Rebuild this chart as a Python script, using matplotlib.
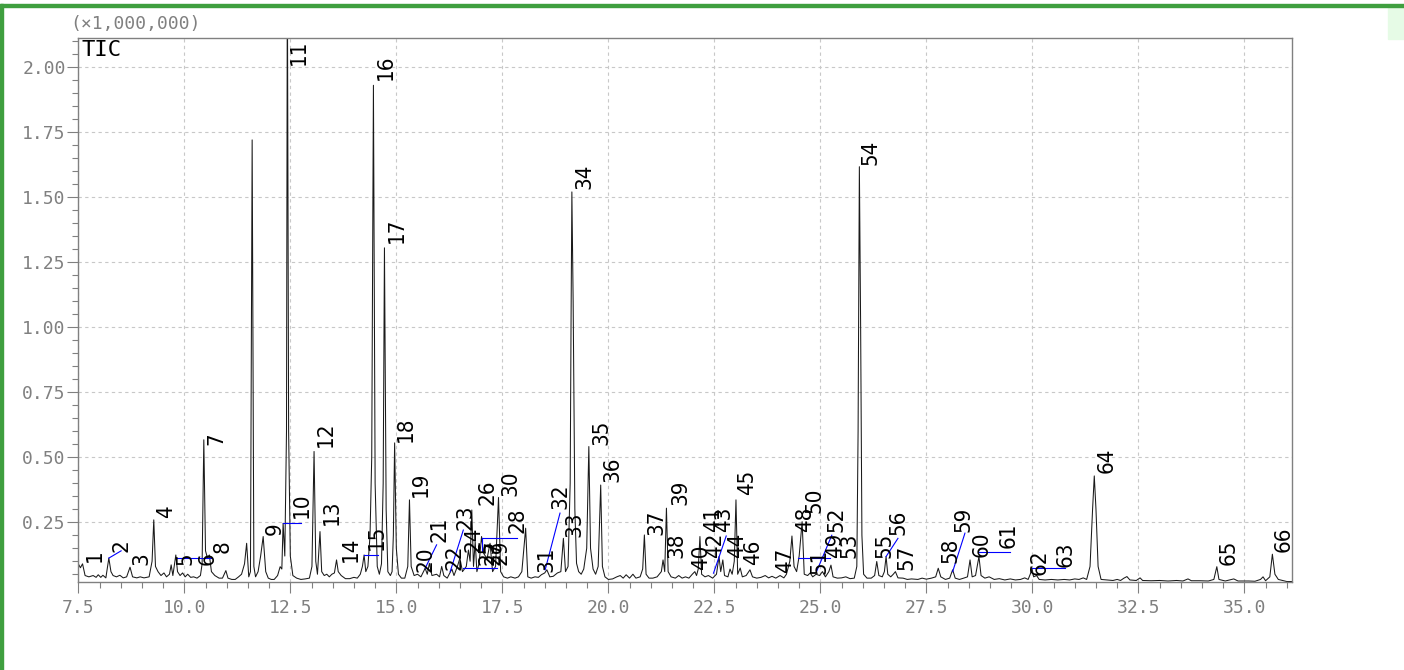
import matplotlib
matplotlib.use('Agg')
import matplotlib.pyplot as plt
from matplotlib.ticker import MultipleLocator
from matplotlib.patches import Rectangle

# TIC trace: retention time (min), intensity (x1,000,000)
trace_t = [7.50, 7.55, 7.60, 7.66, 7.75, 7.85, 7.92, 7.97, 8.03, 8.08, 8.15, 8.22, 8.27, 8.32, 8.40,
           8.48, 8.56, 8.64, 8.72, 8.78, 8.88, 8.96, 9.05, 9.17, 9.24, 9.28, 9.32, 9.38, 9.45, 9.52,
           9.58, 9.65, 9.69, 9.73, 9.80, 9.84, 9.90, 9.96, 10.02, 10.08, 10.15, 10.22, 10.30, 10.38, 10.42,
           10.46, 10.50, 10.55, 10.59, 10.64, 10.72, 10.82, 10.90, 10.98, 11.03, 11.12, 11.20, 11.28, 11.35, 11.42,
           11.47, 11.52, 11.56, 11.60, 11.64, 11.68, 11.74, 11.80, 11.86, 11.92, 11.98, 12.05, 12.12, 12.20, 12.26,
           12.30, 12.33, 12.37, 12.41, 12.43, 12.46, 12.50, 12.56, 12.65, 12.75, 12.85, 12.95, 13.01, 13.06, 13.10,
           13.14, 13.20, 13.24, 13.30, 13.36, 13.42, 13.48, 13.54, 13.59, 13.63, 13.70, 13.80, 13.90, 14.00, 14.08,
           14.15, 14.20, 14.24, 14.28, 14.33, 14.38, 14.42, 14.46, 14.50, 14.55, 14.60, 14.65, 14.69, 14.72, 14.76,
           14.80, 14.86, 14.90, 14.93, 14.96, 15.00, 15.05, 15.12, 15.20, 15.27, 15.31, 15.35, 15.42, 15.50, 15.58,
           15.68, 15.73, 15.78, 15.84, 15.95, 16.02, 16.07, 16.12, 16.20, 16.31, 16.36, 16.44, 16.50, 16.56, 16.65,
           16.70, 16.74, 16.78, 16.82, 16.86, 16.90, 16.95, 17.01, 17.06, 17.14, 17.21, 17.27, 17.34, 17.41, 17.46,
           17.53, 17.62, 17.70, 17.80, 17.88, 17.96, 18.05, 18.10, 18.18, 18.27, 18.35, 18.42, 18.50, 18.55, 18.62,
           18.70, 18.80, 18.88, 18.94, 18.99, 19.05, 19.10, 19.12, 19.14, 19.17, 19.21, 19.25, 19.30, 19.36, 19.42,
           19.49, 19.54, 19.58, 19.64, 19.70, 19.76, 19.82, 19.86, 19.92, 20.00, 20.10, 20.20, 20.28, 20.35, 20.42,
           20.50, 20.58, 20.65, 20.75, 20.81, 20.85, 20.89, 20.96, 21.05, 21.15, 21.25, 21.29, 21.33, 21.37, 21.41,
           21.48, 21.58, 21.66, 21.74, 21.82, 21.90, 21.98, 22.04, 22.08, 22.12, 22.16, 22.20, 22.28, 22.36, 22.46,
           22.55, 22.61, 22.65, 22.70, 22.74, 22.82, 22.87, 22.92, 22.97, 23.01, 23.05, 23.11, 23.16, 23.25, 23.34,
           23.40, 23.50, 23.60, 23.70, 23.78, 23.86, 23.95, 24.05, 24.14, 24.20, 24.28, 24.33, 24.38, 24.44, 24.50,
           24.57, 24.62, 24.70, 24.76, 24.82, 24.90, 24.98, 25.05, 25.12, 25.20, 25.25, 25.30, 25.40, 25.50, 25.60,
           25.70, 25.80, 25.86, 25.89, 25.92, 25.95, 25.98, 26.02, 26.10, 26.20, 26.28, 26.33, 26.38, 26.46, 26.51,
           26.55, 26.59, 26.66, 26.72, 26.77, 26.83, 26.95, 27.05, 27.15, 27.30, 27.40, 27.50, 27.62, 27.72, 27.78,
           27.84, 27.95, 28.05, 28.12, 28.18, 28.28, 28.38, 28.47, 28.53, 28.58, 28.66, 28.74, 28.79, 28.88, 28.98,
           29.10, 29.22, 29.35, 29.48, 29.60, 29.72, 29.82, 29.90, 29.95, 29.99, 30.03, 30.10, 30.16, 30.30, 30.45,
           30.60, 30.75, 30.88, 31.00, 31.10, 31.20, 31.28, 31.36, 31.42, 31.46, 31.50, 31.55, 31.62, 31.75, 31.90,
           32.00, 32.08, 32.16, 32.23, 32.30, 32.45, 32.54, 32.60, 32.80, 33.00, 33.20, 33.40, 33.55, 33.67, 33.75,
           33.95, 34.15, 34.28, 34.35, 34.40, 34.55, 34.75, 34.85, 35.10, 35.25, 35.38, 35.44, 35.50, 35.60, 35.66,
           35.72, 35.80, 35.92, 36.00, 36.13]
trace_v = [0.090, 0.075, 0.090, 0.045, 0.040, 0.045, 0.038, 0.048, 0.038, 0.046, 0.036, 0.112, 0.060, 0.045, 0.040,
           0.046, 0.036, 0.040, 0.077, 0.040, 0.036, 0.040, 0.036, 0.040, 0.100, 0.259, 0.080, 0.060, 0.045, 0.055,
           0.040, 0.050, 0.086, 0.045, 0.124, 0.060, 0.045, 0.055, 0.040, 0.050, 0.038, 0.040, 0.035, 0.045, 0.090,
           0.567, 0.140, 0.110, 0.124, 0.060, 0.045, 0.035, 0.035, 0.064, 0.035, 0.030, 0.030, 0.040, 0.050, 0.090,
           0.169, 0.040, 0.060, 1.720, 0.080, 0.040, 0.060, 0.120, 0.195, 0.060, 0.035, 0.030, 0.030, 0.045, 0.079,
           0.070, 0.246, 0.120, 0.600, 2.400, 0.600, 0.120, 0.045, 0.035, 0.030, 0.032, 0.035, 0.080, 0.522, 0.100,
           0.050, 0.214, 0.060, 0.045, 0.050, 0.040, 0.050, 0.055, 0.105, 0.060, 0.045, 0.033, 0.033, 0.038, 0.035,
           0.050, 0.080, 0.124, 0.060, 0.080, 0.200, 0.500, 1.930, 0.400, 0.080, 0.050, 0.090, 0.400, 1.305, 0.300,
           0.060, 0.045, 0.060, 0.200, 0.555, 0.150, 0.050, 0.035, 0.035, 0.080, 0.336, 0.080, 0.045, 0.050, 0.040,
           0.073, 0.050, 0.092, 0.045, 0.050, 0.040, 0.080, 0.045, 0.035, 0.070, 0.045, 0.080, 0.112, 0.060, 0.080,
           0.143, 0.100, 0.297, 0.080, 0.175, 0.060, 0.090, 0.195, 0.130, 0.110, 0.169, 0.060, 0.080, 0.345, 0.060,
           0.040, 0.035, 0.040, 0.035, 0.040, 0.060, 0.227, 0.040, 0.035, 0.040, 0.038, 0.048, 0.055, 0.067, 0.040,
           0.042, 0.055, 0.060, 0.188, 0.060, 0.080, 0.400, 1.000, 1.520, 1.100, 0.300, 0.092, 0.060, 0.050, 0.070,
           0.150, 0.541, 0.150, 0.070, 0.050, 0.080, 0.393, 0.080, 0.040, 0.030, 0.032, 0.040, 0.045, 0.035, 0.048,
           0.035, 0.050, 0.035, 0.040, 0.070, 0.201, 0.050, 0.035, 0.035, 0.040, 0.060, 0.105, 0.060, 0.304, 0.060,
           0.040, 0.035, 0.045, 0.035, 0.040, 0.035, 0.050, 0.060, 0.045, 0.070, 0.195, 0.050, 0.040, 0.045, 0.035,
           0.050, 0.118, 0.060, 0.105, 0.045, 0.040, 0.070, 0.050, 0.100, 0.336, 0.050, 0.074, 0.040, 0.045, 0.067,
           0.040, 0.035, 0.038, 0.045, 0.036, 0.042, 0.035, 0.045, 0.036, 0.050, 0.100, 0.197, 0.080, 0.060, 0.120,
           0.252, 0.050, 0.045, 0.055, 0.040, 0.050, 0.045, 0.060, 0.040, 0.060, 0.085, 0.040, 0.035, 0.036, 0.040,
           0.033, 0.035, 0.080, 0.600, 1.617, 1.000, 0.200, 0.050, 0.035, 0.035, 0.045, 0.099, 0.045, 0.040, 0.060,
           0.118, 0.050, 0.040, 0.050, 0.060, 0.036, 0.035, 0.030, 0.032, 0.030, 0.035, 0.031, 0.035, 0.040, 0.073,
           0.040, 0.030, 0.035, 0.067, 0.035, 0.030, 0.035, 0.040, 0.105, 0.040, 0.045, 0.118, 0.045, 0.035, 0.040,
           0.030, 0.033, 0.028, 0.032, 0.028, 0.030, 0.036, 0.030, 0.050, 0.073, 0.040, 0.045, 0.030, 0.028, 0.030,
           0.028, 0.030, 0.028, 0.032, 0.030, 0.036, 0.030, 0.080, 0.300, 0.428, 0.300, 0.080, 0.030, 0.028, 0.026,
           0.030, 0.026, 0.035, 0.041, 0.028, 0.026, 0.036, 0.026, 0.025, 0.026, 0.024, 0.026, 0.024, 0.032, 0.025,
           0.025, 0.024, 0.030, 0.079, 0.030, 0.024, 0.032, 0.024, 0.024, 0.023, 0.030, 0.040, 0.025, 0.040, 0.127,
           0.050, 0.030, 0.025, 0.022, 0.022]

# peak numbers
peak_no = list(range(1, 67))

# label layout: (centre time, bottom of text) per peak number
label_pos = {
    1: (7.89, 0.097), 2: (8.51, 0.137), 3: (8.98, 0.086), 4: (9.57, 0.267), 5: (10.02, 0.086),
    6: (10.54, 0.086), 7: (10.75, 0.547), 8: (10.91, 0.132), 9: (12.14, 0.201), 10: (12.78, 0.267),
    11: (12.71, None), 12: (13.34, 0.540), 13: (13.48, 0.240), 14: (13.93, 0.097), 15: (14.54, 0.143),
    16: (14.76, 1.951), 17: (15.02, 1.325), 18: (15.23, 0.560), 19: (15.58, 0.348), 20: (15.68, 0.060),
    21: (16.03, 0.174), 22: (16.38, 0.067), 23: (16.62, 0.220), 24: (16.83, 0.136), 25: (17.14, 0.085),
    26: (17.16, 0.317), 27: (17.30, 0.086), 28: (17.85, 0.210), 29: (17.45, 0.086), 30: (17.70, 0.350),
    31: (18.55, 0.060), 32: (18.86, 0.300), 33: (19.19, 0.193), 34: (19.43, 1.530), 35: (19.83, 0.548),
    36: (20.09, 0.405), 37: (21.13, 0.200), 38: (21.60, 0.113), 39: (21.71, 0.317), 40: (22.18, 0.067),
    41: (22.47, 0.213), 42: (22.51, 0.113), 43: (22.73, 0.213), 44: (23.03, 0.113), 45: (23.27, 0.355),
    46: (23.41, 0.085), 47: (24.17, 0.055), 48: (24.64, 0.213), 49: (25.35, 0.113), 50: (24.87, 0.286),
    51: (24.99, 0.050), 52: (25.37, 0.213), 53: (25.68, 0.113), 54: (26.19, 1.624), 55: (26.52, 0.113),
    56: (26.85, 0.201), 57: (27.02, 0.067), 58: (28.08, 0.093), 59: (28.38, 0.213), 60: (28.81, 0.117),
    61: (29.43, 0.151), 62: (30.18, 0.047), 63: (30.79, 0.078), 64: (31.74, 0.440), 65: (34.64, 0.086),
    66: (35.93, 0.137),
}

# blue leader lines from peaks to displaced labels
leaders = [((8.22, 0.112), (8.51, 0.140)), ((9.83, 0.113), (10.63, 0.113)),
           ((12.33, 0.246), (12.76, 0.246)), ((14.24, 0.124), (14.57, 0.124)),
           ((15.68, 0.073), (15.95, 0.163)), ((16.27, 0.060), (16.58, 0.220)),
           ((17.01, 0.188), (17.84, 0.188)), ((16.57, 0.073), (17.37, 0.073)),
           ((17.01, 0.188), (17.01, 0.140)), ((18.51, 0.067), (18.86, 0.285)),
           ((22.48, 0.054), (22.78, 0.197)), ((24.47, 0.111), (25.23, 0.111)),
           ((24.91, 0.060), (25.27, 0.200)), ((26.55, 0.118), (26.83, 0.188)),
           ((28.12, 0.060), (28.41, 0.208)), ((28.75, 0.137), (29.48, 0.137)),
           ((29.99, 0.073), (30.77, 0.073))]

W, H = 1404, 670
mono = 'DejaVu Sans Mono'

fig = plt.figure(figsize=(W / 100, H / 100), dpi=100)
ax = fig.add_axes([78.3 / W, 1 - 582.3 / H, (1292.3 - 78.3) / W, (582.3 - 37.7) / H])

ax.plot(trace_t, trace_v, color='#1a1a1a', lw=0.75)
ax.set_xlim(7.5, 36.13)
ax.set_ylim(0.019, 2.113)

ax.xaxis.set_major_locator(MultipleLocator(2.5))
ax.xaxis.set_minor_locator(MultipleLocator(0.5))
ax.yaxis.set_major_locator(MultipleLocator(0.25))
ax.yaxis.set_minor_locator(MultipleLocator(0.05))
ax.xaxis.set_major_formatter(lambda v, p: '%.1f' % v)
ax.yaxis.set_major_formatter(lambda v, p: '%.2f' % v)

gray = '#808080'
ax.tick_params(which='major', direction='out', length=8, width=0.8, color=gray,
               labelcolor=gray, labelsize=13)
ax.tick_params(which='minor', direction='out', length=4.3, width=0.8, color=gray)
ax.tick_params(axis='y', pad=1)
ax.tick_params(axis='x', pad=4)
for lab in ax.get_xticklabels() + ax.get_yticklabels():
    lab.set_family(mono)
for s in ax.spines.values():
    s.set_color(gray)
    s.set_linewidth(1.0)
ax.grid(True, which='major', color='#c8c8c8', linestyle=(0, (3, 3)), lw=0.8)
ax.set_axisbelow(True)

for (p0, p1) in leaders:
    ax.plot([p0[0], p1[0]], [p0[1], p1[1]], color='#0000ff', lw=0.8)

for n in peak_no:
    lx, ly = label_pos[n]
    if ly is None:
        ax.text(lx, 2.105, str(n), rotation=90, ha='center', va='top',
                family='DejaVu Sans', stretch='condensed', fontsize=16, color='k')
    else:
        ax.text(lx, ly, str(n), rotation=90, ha='center', va='bottom',
                family='DejaVu Sans', stretch='condensed', fontsize=16, color='k')

ax.text(0.003, 0.995, 'TIC', transform=ax.transAxes, ha='left', va='top',
        family=mono, fontsize=16, color='k')
fig.text(70 / W, 1 - 24 / H, '(\u00d71,000,000)', ha='left', va='center',
         family=mono, fontsize=13, color=gray)

# green frame of the screenshot
fig.patches.append(Rectangle((0, 1 - 6.7 / H), 1, 2.7 / H, transform=fig.transFigure,
                             color='#3f9f3f', zorder=10))
fig.patches.append(Rectangle((0, 0), 2.7 / W, 1 - 4 / H, transform=fig.transFigure,
                             color='#3f9f3f', zorder=10))
fig.patches.append(Rectangle((1388 / W, 1 - 39 / H), 16 / W, 32 / H, transform=fig.transFigure,
                             color='#e6fbe6', zorder=9))

fig.savefig('out.png', dpi=100)
